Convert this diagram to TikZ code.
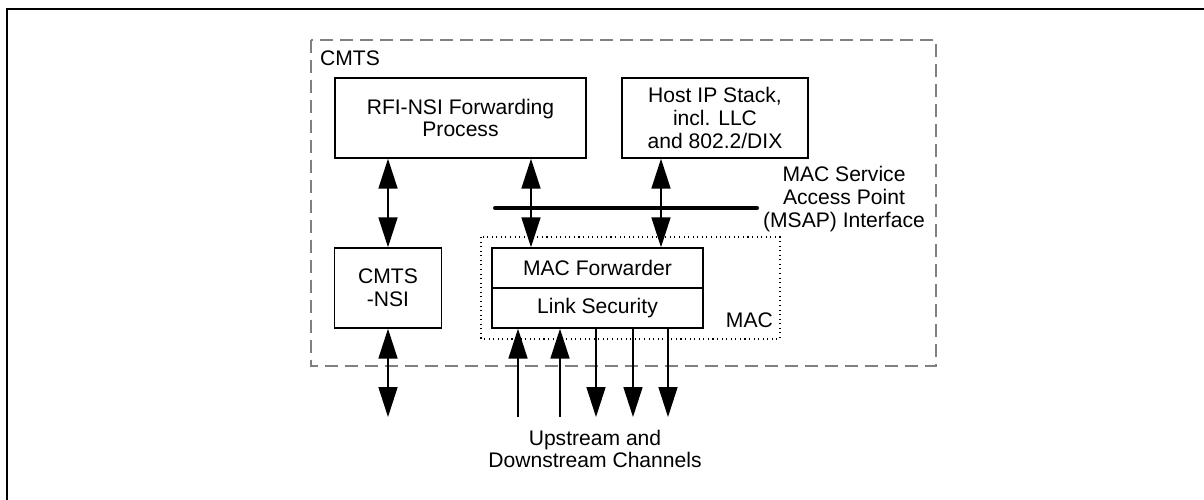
\documentclass[tikz,border=0pt]{standalone}
\usepackage{fontspec}
\setmainfont{Liberation Sans}
\usetikzlibrary{arrows.meta,positioning}
\definecolor{boxgray}{HTML}{808080}

\begin{document}
\begin{tikzpicture}[x=0.02cm, y=-0.02cm,
    font=\fontsize{12}{13}\selectfont,
    block/.style={rectangle, draw, line width=0.8pt, align=center, inner sep=0pt},
    tip/.tip={Triangle[length=0.6cm, width=0.38cm]},
    both/.style={line width=0.95pt, tip-tip},
    uplink/.style={line width=0.95pt, -tip},
    downlink/.style={line width=0.95pt, -tip}]
  \useasboundingbox (0,0) rectangle (1204,500);

  % Frame
  \draw[line width=1.7pt] (7,500) -- (7,9) -- (1204,9);

  % CMTS
  \draw[boxgray, line width=0.6pt, dash pattern=on 0.26cm off 0.14cm] (311,40) rectangle (936,366);
  \node[anchor=west] (cmts) at (314,58) {CMTS};

  % Upper blocks
  \node[block, minimum width=5.02cm, minimum height=1.6cm] (rfi) at (460.5,118) {RFI-NSI Forwarding\\Process};
  \node[block, minimum width=3.72cm, minimum height=1.6cm] (host) at (715,118) {Host IP Stack,\\incl. LLC\\and 802.2/DIX};

  % CMTS-NSI
  \node[block, minimum width=2.14cm, minimum height=1.6cm] (nsi) at (388,288) {CMTS\\-NSI};

  % MAC
  \draw[line width=0.6pt, dotted] (481,237) rectangle (780,339);
  \node[block, minimum width=4.22cm, minimum height=0.8cm] (fwd) at (597.5,268) {MAC Forwarder};
  \node[block, minimum width=4.22cm, minimum height=0.8cm] (sec) at (597.5,308) {Link Security};
  \node[anchor=east] (mac) at (779,320) {MAC};

  % MSAP interface
  \coordinate (barL) at (495,208);
  \coordinate (barR) at (757,208);
  \coordinate (tapA) at (531,208);
  \coordinate (tapB) at (661,208);
  \draw[line width=2.3pt, line cap=round] (barL) -- (barR);
  \node[align=center] (msap) at (844,199) {MAC Service\\Access Point\\(MSAP) Interface};

  % Arrows
  \draw[both] (rfi.south -| nsi) -- (nsi.north);
  \draw[both] (rfi.south -| tapA) -- (fwd.north -| tapA);
  \draw[both] (host.south -| tapB) -- (fwd.north -| tapB);
  \coordinate (nsiout) at (388,417);
  \draw[both] (nsi.south) -- (nsiout);

  % Channels
  \foreach \x [count=\i] in {518,560,596,633,668}
    \coordinate (ch\i) at (\x,417);
  \foreach \i in {1,2}
    \draw[uplink] (ch\i) -- (sec.south -| ch\i);
  \foreach \i in {3,4,5}
    \draw[downlink] (sec.south -| ch\i) -- (ch\i);
  \node[align=center] (chan) at (595,449) {Upstream and\\Downstream Channels};

\end{tikzpicture}
\end{document}
